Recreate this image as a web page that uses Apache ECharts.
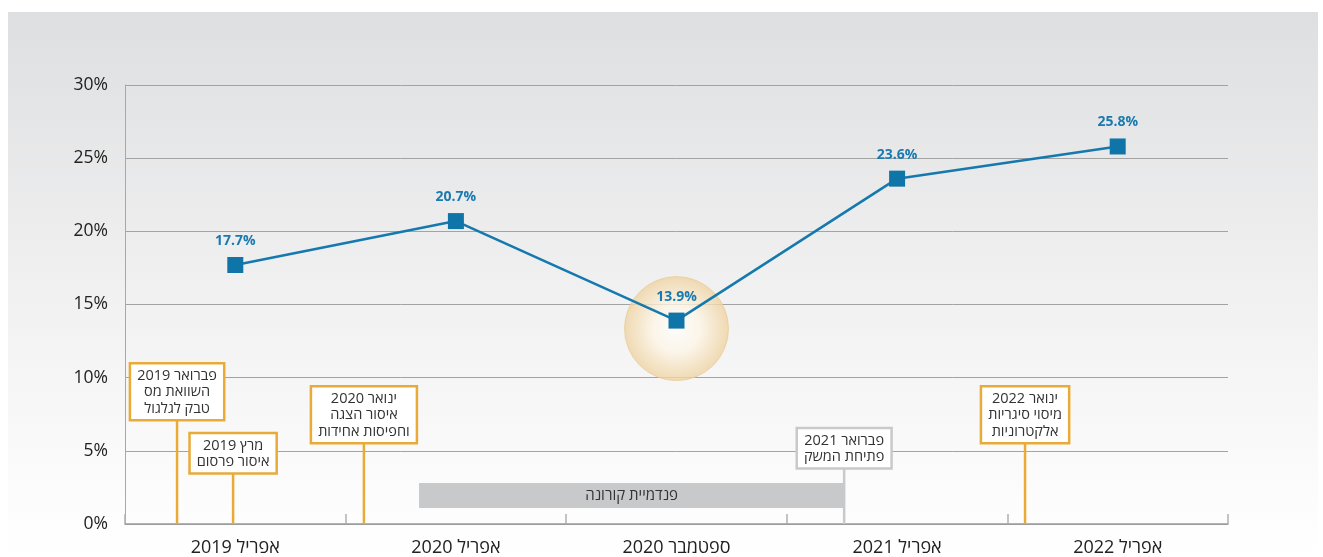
<!DOCTYPE html>
<html><head><meta charset="utf-8">
<script src="https://cdn.jsdelivr.net/npm/echarts@6/dist/echarts.min.js"></script>
<style>html,body{margin:0;padding:0;background:#fff}#c{width:1323px;height:557px}</style>
</head><body><div id="c"></div>
<script>
// ---- data ----
const categories = ['אפריל 2019','אפריל 2020','ספטמבר 2020','אפריל 2021','אפריל 2022'];
const values = [17.7, 20.7, 13.9, 23.6, 25.8];
const yTicks = [0, 5, 10, 15, 20, 25, 30];
const highlightIndex = 2;
// events on the timeline (x in category-band units, 0 = left edge of first band)
const eventX = [0.236, 0.49, 1.083, 3.26, 4.08];
const eventText = [
  'פברואר 2019\nהשוואת מס\nטבק לגלגול',
  'מרץ 2019\nאיסור פרסום',
  'ינואר 2020\nאיסור הצגה\nוחפיסות אחידות',
  'פברואר 2021\nפתיחת המשק',
  'ינואר 2022\nמיסוי סיגריות\nאלקטרוניות'
];
const eventKind = ['law','law','law','open','law'];
const pandemicRange = [1.333, 3.26];
const pandemicLabel = 'פנדמיית קורונה';

// ---- layout (not data) ----
const boxBottomLevel = [7.25, 3.6, 5.67, 3.95, 5.67];
const pandemicBand = [1.09, 2.8];
const FONT = '"Open Sans","DejaVu Sans",sans-serif';

const chart = echarts.init(document.getElementById('c'), null, {renderer:'canvas'});

const eventData = eventX.map((x,i)=>[x, boxBottomLevel[i], i]);

chart.setOption({
  animation:false,
  graphic:[{type:'rect', z:-10, silent:true, shape:{x:8,y:12,width:1310,height:545},
    style:{fill:new echarts.graphic.LinearGradient(0,0,0,1,[
      {offset:0,color:'#dedfe0'},{offset:0.55,color:'#f2f2f3'},{offset:0.85,color:'#fbfbfb'},{offset:1,color:'#ffffff'}])}}],
  grid:{left:125,right:95,top:85,bottom:32,containLabel:false},
  xAxis:[{
    type:'category', data:categories, boundaryGap:true,
    axisLine:{lineStyle:{color:'#9a9a9a',width:1.5}},
    axisTick:{show:true,inside:true,length:10,lineStyle:{color:'#b0b0b0',width:1.5}},
    axisLabel:{fontFamily:FONT,fontSize:18,color:'#222',margin:15}
  },{
    type:'value', min:0, max:5, show:false
  }],
  yAxis:{
    type:'value', min:yTicks[0], max:yTicks[yTicks.length-1], interval:5,
    axisLine:{show:true,lineStyle:{color:'#a8a8a8',width:1}},
    axisTick:{show:false},
    axisLabel:{fontFamily:FONT,fontSize:17.5,color:'#222',margin:17,formatter:v=>v+'%'},
    splitLine:{show:true,lineStyle:{color:'#a3a3a3',width:1}}
  },
  series:[
    {
      type:'scatter', xAxisIndex:0, z:1, silent:true,
      data: values.map((v,i)=> i===highlightIndex ? v : null),
      symbol:'circle', symbolSize:104, symbolOffset:[0,8],
      itemStyle:{color:new echarts.graphic.RadialGradient(0.5,0.5,0.5,[
        {offset:0,color:'rgba(255,255,255,1)'},{offset:0.45,color:'rgba(253,245,230,1)'},{offset:1,color:'rgba(238,210,160,1)'}]),
        borderColor:'rgba(232,200,145,0.8)',borderWidth:1}
    },
    {
      type:'custom', xAxisIndex:1, z:2, silent:true,
      data:[[pandemicRange[0],pandemicRange[1],pandemicBand[0],pandemicBand[1]]],
      renderItem:(params,api)=>{
        const p0 = api.coord([api.value(0), api.value(3)]);
        const p1 = api.coord([api.value(1), api.value(2)]);
        return {type:'group',children:[
          {type:'rect',shape:{x:p0[0],y:p0[1],width:p1[0]-p0[0],height:p1[1]-p0[1]},style:{fill:'#c8c9cb'}},
          {type:'text',x:(p0[0]+p1[0])/2,y:(p0[1]+p1[1])/2,style:{text:pandemicLabel,font:'15px '+FONT,fill:'#333',align:'center',verticalAlign:'middle'}}
        ]};
      }
    },
    {
      type:'custom', xAxisIndex:1, z:3, silent:true,
      data:eventData,
      renderItem:(params,api)=>{
        const i = api.value(2);
        const base = api.coord([api.value(0), 0]);
        const top = api.coord([api.value(0), api.value(1)]);
        const col = eventKind[i]==='open' ? '#c9c9c9' : '#e9aa38';
        return {type:'group',children:[
          {type:'line',shape:{x1:base[0],y1:base[1],x2:top[0],y2:top[1]},style:{stroke:col,lineWidth:2.5}},
          {type:'text',x:top[0],y:top[1]+1,style:{text:eventText[i],font:'14.5px '+FONT,lineHeight:16.5,fill:'#333',
            align:'center',verticalAlign:'bottom',backgroundColor:'#fff',borderColor:col,borderWidth:2.5,padding:[3,6,2,6]}}
        ]};
      }
    },
    {
      type:'line', xAxisIndex:0, z:5, data:values,
      lineStyle:{color:'#1579ad',width:2.5},
      symbol:'rect', symbolSize:16,
      itemStyle:{color:'#0f74a8'},
      label:{show:true,position:'top',distance:9,formatter:p=>p.value.toFixed(1)+'%',
        fontFamily:FONT,fontSize:14,fontWeight:'bold',color:'#1a7ab0'}
    }
  ]
});
</script></body></html>
